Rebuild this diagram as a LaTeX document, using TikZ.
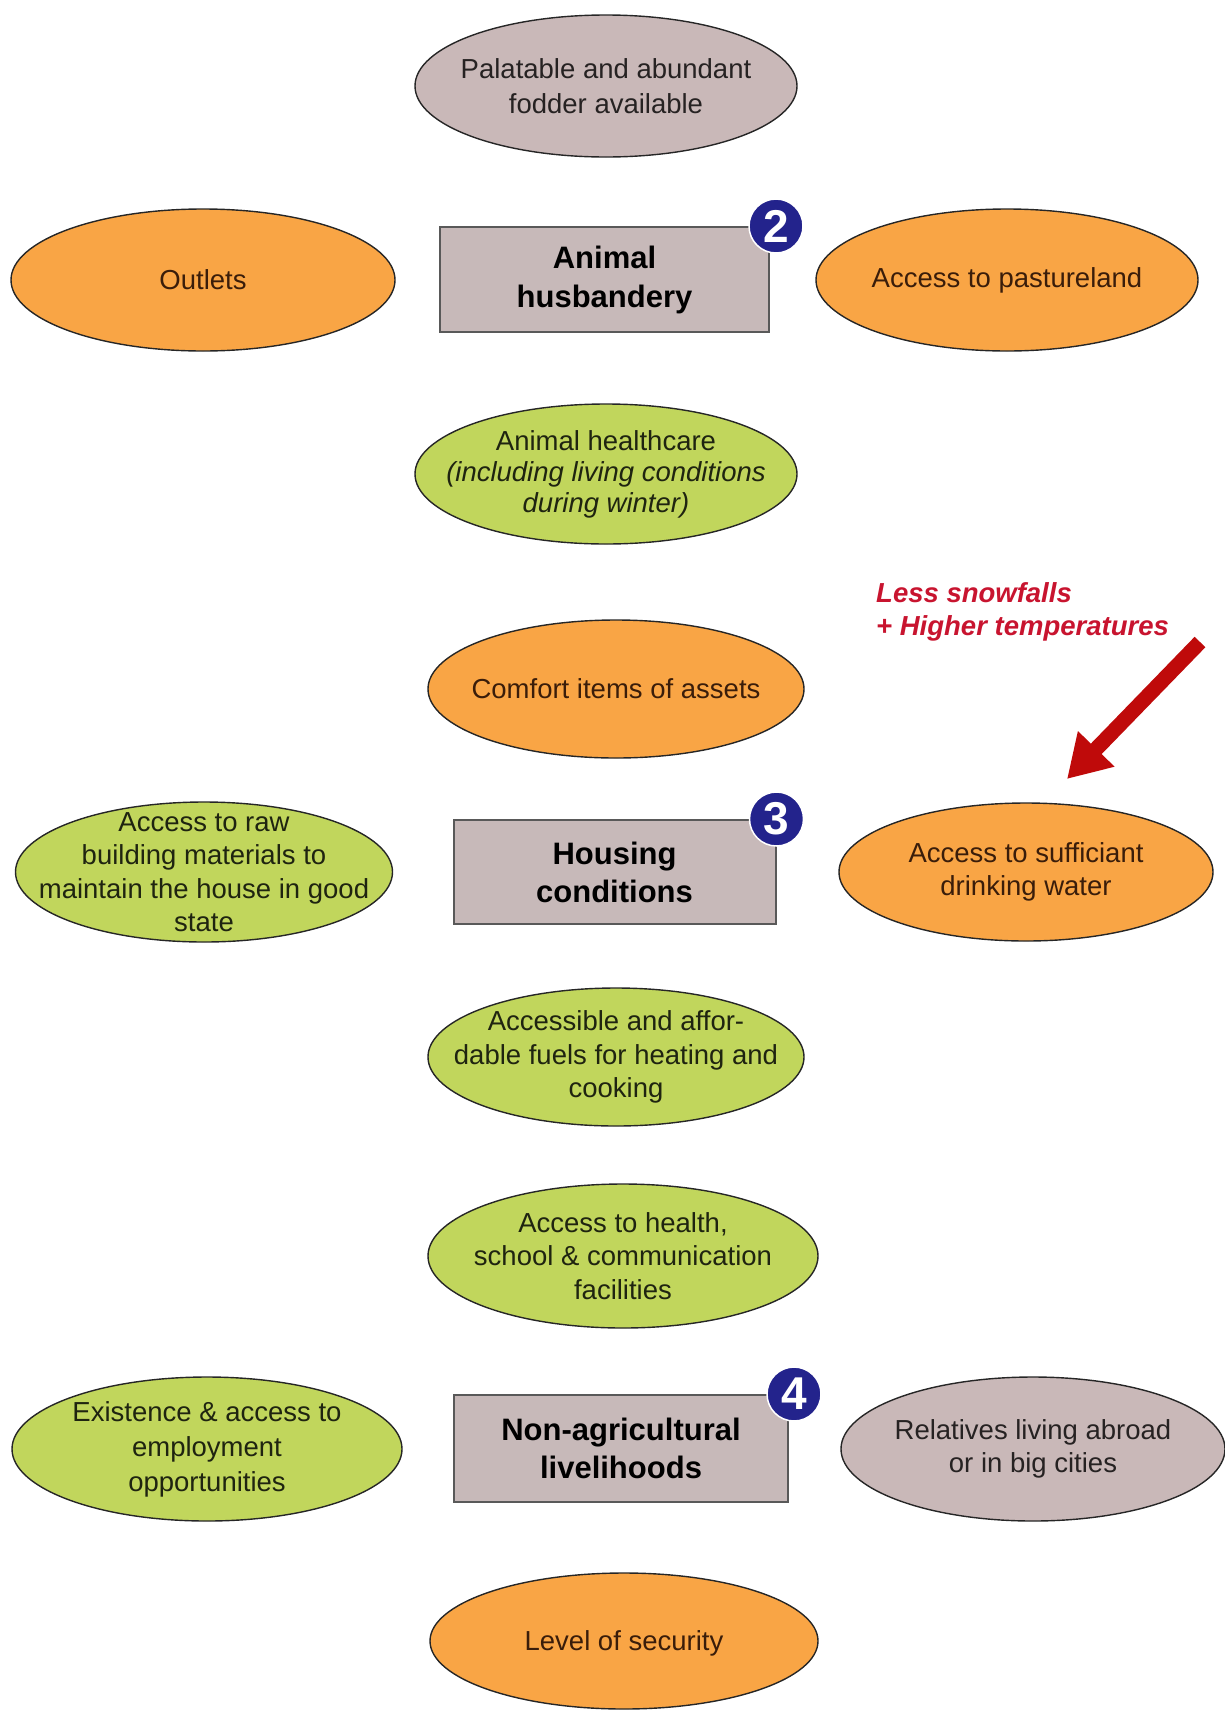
\documentclass[tikz,border=0pt]{standalone}
\usepackage{fontspec}
\setmainfont{Liberation Sans}
\usetikzlibrary{shapes.geometric,arrows.meta}
\definecolor{orng}{HTML}{F9A545}
\definecolor{grn}{HTML}{C1D65C}
\definecolor{mauve}{HTML}{C9B8B8}
\definecolor{boxfill}{HTML}{C7B9B9}
\definecolor{navy}{HTML}{23238C}
\definecolor{redtxt}{HTML}{C8142F}
\definecolor{arrred}{HTML}{BF0A0A}
\definecolor{txtbrown}{HTML}{3A1D0A}
\definecolor{txtgreen}{HTML}{1F2410}
\definecolor{txtgray}{HTML}{262222}
\tikzset{
  ell/.style={ellipse, draw=black!85, line width=1.4pt, inner sep=0pt},
  eltxt/.style={align=center, inner sep=0pt, font=\fontsize{27.5}{33.5}\selectfont, text=#1},
  hbox/.style={rectangle, draw=black!65, line width=2pt, fill=boxfill, inner sep=0pt,
    align=center, font=\fontsize{31}{38}\selectfont\bfseries, text=black},
  badge/.style={circle, fill=navy, draw=white, line width=1.5pt, minimum size=54pt,
    inner sep=0pt, text=white, font=\fontsize{46}{46}\selectfont\bfseries},
  climtxt/.style={align=left, inner sep=0pt, text=redtxt,
    font=\fontsize{27.5}{33}\selectfont\bfseries\itshape},
}
\begin{document}
\begin{tikzpicture}[x=1pt,y=-1pt]
\useasboundingbox (0,0) rectangle (1224,1711);

% --- top: fodder
\node[ell, fill=mauve, minimum width=382pt, minimum height=142pt] (fodder) at (606,86) {};
\node[eltxt=txtgray, font=\fontsize{27.5}{35}\selectfont] (fodderT) at (fodder) {Palatable and abundant\\fodder available};

% --- row 2: animal husbandry
\node[ell, fill=orng, minimum width=384pt, minimum height=142pt] (outlets) at (203,280) {};
\node[eltxt=txtbrown] (outletsT) at (outlets) {Outlets};
\node[hbox, minimum width=329pt, minimum height=105pt, font=\fontsize{31}{39}\selectfont\bfseries] (husb) at (604.5,279.5) {Animal\\husbandery};
\node[badge] (b2) at ([xshift=6pt]husb.north east) {2};
\node[ell, fill=orng, minimum width=382pt, minimum height=142pt] (pasture) at (1007,280) {};
\node[eltxt=txtbrown] (pastureT) at (pasture) {Access to pastureland};

% --- healthcare
\node[ell, fill=grn, minimum width=382pt, minimum height=140pt] (health) at (606,474) {};
\node[eltxt=txtgreen, font=\fontsize{27.5}{31}\selectfont] (healthT) at (health) {Animal healthcare\\\textit{(including living conditions}\\\textit{during winter)}};

% --- climate note + arrow
\node[climtxt, anchor=north west] (clim) at (876,582) {Less snowfalls\\+ Higher temperatures};
\coordinate (arrtail) at (1200,642);
\coordinate (arrtip) at (1067,779);
\draw[arrred, line width=15pt, -{Triangle[width=48pt,length=42pt]}] (arrtail) -- (arrtip);

% --- comfort items
\node[ell, fill=orng, minimum width=376pt, minimum height=138pt] (comfort) at (616,689) {};
\node[eltxt=txtbrown] (comfortT) at (comfort) {Comfort items of assets};

% --- row: housing
\node[ell, fill=grn, minimum width=377pt, minimum height=140pt] (raw) at (204,872) {};
\node[eltxt=txtgreen] (rawT) at (raw) {Access to raw\\building materials to\\maintain the house in good\\state};
\node[hbox, minimum width=322pt, minimum height=104pt] (housing) at (614.5,872) {Housing\\conditions};
\node[badge] (b3) at (housing.north east) {3};
\node[ell, fill=orng, minimum width=374pt, minimum height=138pt] (water) at (1026,872) {};
\node[eltxt=txtbrown] (waterT) at (water) {Access to sufficiant\\drinking water};

% --- fuels
\node[ell, fill=grn, minimum width=376pt, minimum height=138pt] (fuels) at (616,1057) {};
\node[eltxt=txtgreen] (fuelsT) at (fuels) {Accessible and affor-\\dable fuels for heating and\\cooking};

% --- facilities
\node[ell, fill=grn, minimum width=390pt, minimum height=144pt] (facil) at (623,1256) {};
\node[eltxt=txtgreen] (facilT) at (facil) {Access to health,\\school \& communication\\facilities};

% --- row: non-agricultural
\node[ell, fill=grn, minimum width=390pt, minimum height=144pt] (employ) at (207,1449) {};
\node[eltxt=txtgreen, font=\fontsize{27.5}{35}\selectfont] (employT) at (employ) {Existence \& access to\\employment\\opportunities};
\node[hbox, minimum width=334pt, minimum height=107pt] (nonagri) at (621,1448.5) {Non-agricultural\\livelihoods};
\node[badge] (b4) at ([xshift=5pt]nonagri.north east) {4};
\node[ell, fill=mauve, minimum width=384pt, minimum height=144pt] (relatives) at (1033,1449) {};
\node[eltxt=txtgray] (relativesT) at (relatives) {Relatives living abroad\\or in big cities};

% --- security
\node[ell, fill=orng, minimum width=388pt, minimum height=136pt] (security) at (624,1641) {};
\node[eltxt=txtbrown] (securityT) at ([yshift=-2pt]security.center) {Level of security};
\end{tikzpicture}
\end{document}
